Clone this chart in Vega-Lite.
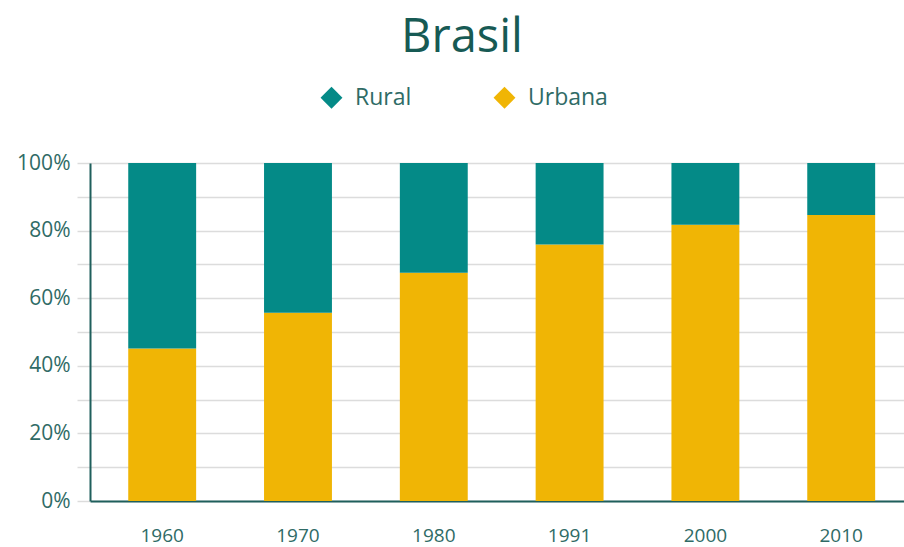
{
  "$schema": "https://vega.github.io/schema/vega-lite/v6.json",
  "width": 814,
  "height": 338,
  "autosize": {"type": "none"},
  "padding": {"left": 90, "top": 163, "right": 0, "bottom": 46},
  "background": "white",
  "title": {
    "text": "Brasil",
    "font": "Open Sans",
    "fontSize": 47,
    "fontWeight": "normal",
    "color": "#175a54",
    "anchor": "middle",
    "frame": "group",
    "dx": -35,
    "dy": 6,
    "offset": 30
  },
  "data": {
    "values": [
      {"ano": "1960", "tipo": "Urbana", "valor": 0.451},
      {"ano": "1960", "tipo": "Rural", "valor": 0.549},
      {"ano": "1970", "tipo": "Urbana", "valor": 0.557},
      {"ano": "1970", "tipo": "Rural", "valor": 0.443},
      {"ano": "1980", "tipo": "Urbana", "valor": 0.675},
      {"ano": "1980", "tipo": "Rural", "valor": 0.325},
      {"ano": "1991", "tipo": "Urbana", "valor": 0.759},
      {"ano": "1991", "tipo": "Rural", "valor": 0.241},
      {"ano": "2000", "tipo": "Urbana", "valor": 0.817},
      {"ano": "2000", "tipo": "Rural", "valor": 0.183},
      {"ano": "2010", "tipo": "Urbana", "valor": 0.846},
      {"ano": "2010", "tipo": "Rural", "valor": 0.154}
    ]
  },
  "mark": {"type": "bar"},
  "encoding": {
    "x": {
      "field": "ano",
      "type": "nominal",
      "scale": {"paddingInner": 0.5, "paddingOuter": 0.247, "align": 0.57},
      "axis": {
        "title": null,
        "labelAngle": 0,
        "ticks": false,
        "domainColor": "#1f5f5c",
        "domainWidth": 2,
        "labelPadding": 25,
        "labelFont": "Open Sans",
        "labelFontSize": 19,
        "labelColor": "#2f6b66",
        "grid": false
      }
    },
    "y": {
      "field": "valor",
      "type": "quantitative",
      "stack": "zero",
      "scale": {"domain": [0, 1], "nice": false},
      "axis": {
        "title": null,
        "values": [0, 0.1, 0.2, 0.3, 0.4, 0.5, 0.6, 0.7, 0.8, 0.9, 1],
        "format": ".0%",
        "labelExpr": "round(datum.value * 10) % 2 == 0 ? datum.label : ''",
        "grid": true,
        "gridColor": "#dcdcdc",
        "gridWidth": 1.5,
        "tickColor": "#dcdcdc",
        "tickWidth": 1.5,
        "tickSize": 13,
        "domainColor": "#1f5f5c",
        "domainWidth": 2,
        "labelPadding": 7,
        "labelFont": "Open Sans",
        "labelFontSize": 21,
        "labelColor": "#2f6b66"
      }
    },
    "color": {
      "field": "tipo",
      "type": "nominal",
      "scale": {"domain": ["Rural", "Urbana"], "range": ["#048a87", "#f0b505"]},
      "legend": {
        "orient": "none",
        "legendX": 230,
        "legendY": -77,
        "direction": "horizontal",
        "title": null,
        "symbolType": "diamond",
        "symbolSize": 480,
        "symbolStrokeWidth": 0,
        "symbolOpacity": 1,
        "labelFont": "Open Sans",
        "labelFontSize": 23,
        "labelColor": "#2f6b66",
        "labelOffset": 12,
        "columnPadding": 81
      }
    },
    "order": {"field": "tipo", "sort": "descending"}
  }
}
